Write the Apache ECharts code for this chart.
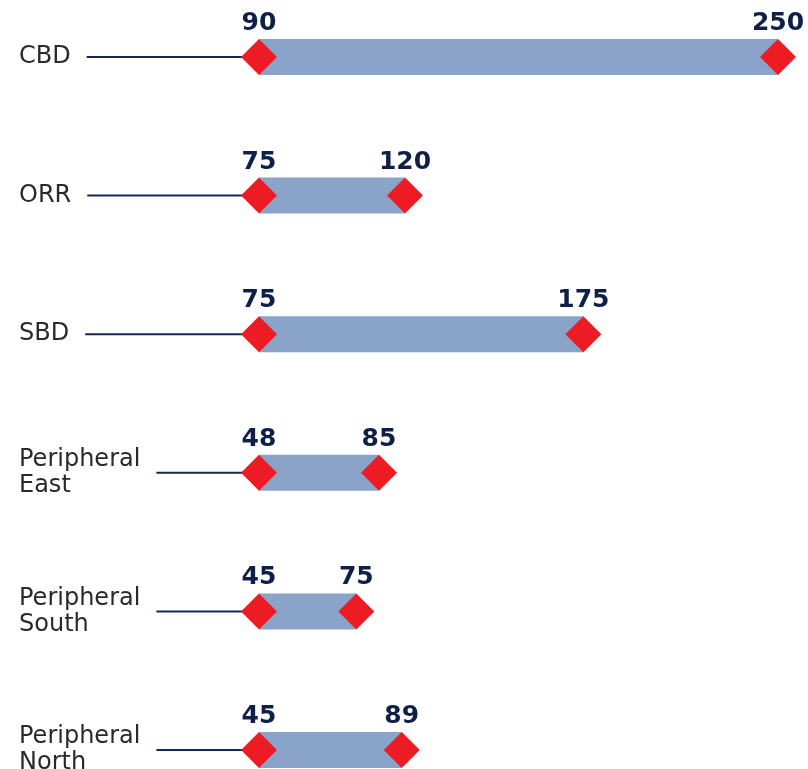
<!DOCTYPE html>
<html><head><meta charset="utf-8">
<script src="https://cdn.jsdelivr.net/npm/echarts@6/dist/echarts.min.js"></script>
<style>html,body{margin:0;padding:0;background:#fff}#c{width:808px;height:769px}</style>
</head><body><div id="c"></div>
<script>
const categories = ['CBD', 'ORR', 'SBD', 'Peripheral\nEast', 'Peripheral\nSouth', 'Peripheral\nNorth'];
const minValues = [90, 75, 75, 48, 45, 45];
const maxValues = [250, 120, 175, 85, 75, 89];

const FONT = 'DejaVu Sans';
const labelFontSize = 24;
const ranges = maxValues.map((v, i) => v - minValues[i]);

const meas = document.createElement('canvas').getContext('2d');
meas.font = labelFontSize + 'px "' + FONT + '"';
function labelWidth(t) { return Math.max(...t.split('\n').map(s => meas.measureText(s).width)); }

const chart = echarts.init(document.getElementById('c'), null, {renderer: 'canvas'});
const valueLabel = {
  show: true, position: 'top', distance: 3,
  color: '#0e1f48', fontFamily: FONT, fontWeight: 'bold', fontSize: 25
};
chart.setOption({
  animation: false,
  grid: {left: 259, right: 30, top: 57, bottom: 19, containLabel: false, outerBoundsMode: 'none'},
  xAxis: {type: 'value', min: 0, max: 160, show: false},
  yAxis: {
    type: 'category', data: categories, inverse: true, boundaryGap: false,
    axisLine: {show: false}, axisTick: {show: false}, splitLine: {show: false},
    axisLabel: {align: 'left', margin: 240, color: '#2a2a2a', fontFamily: FONT, fontSize: labelFontSize, lineHeight: 26}
  },
  series: [
    {
      type: 'custom', z: 1,
      data: categories.map((c, i) => [0, i]),
      renderItem: function (params, api) {
        const i = api.value(1);
        const p = api.coord([0, i]);
        const x1 = 19 + labelWidth(categories[i]) + 16;
        return {type: 'line', shape: {x1: x1, y1: p[1], x2: p[0], y2: p[1]},
          style: {stroke: '#14264f', lineWidth: 2}};
      }
    },
    {
      type: 'bar', z: 2, barWidth: 36, data: ranges,
      itemStyle: {color: '#89a4c8'}
    },
    {
      type: 'scatter', z: 3, symbol: 'diamond', symbolSize: 36,
      itemStyle: {color: '#ed1c24', opacity: 1},
      data: ranges.map((r, i) => [0, i]),
      label: Object.assign({}, valueLabel, {formatter: p => String(minValues[p.dataIndex])})
    },
    {
      type: 'scatter', z: 3, symbol: 'diamond', symbolSize: 36,
      itemStyle: {color: '#ed1c24', opacity: 1},
      data: ranges.map((r, i) => [r, i]),
      label: Object.assign({}, valueLabel, {formatter: p => String(maxValues[p.dataIndex])})
    }
  ]
});
</script></body></html>
